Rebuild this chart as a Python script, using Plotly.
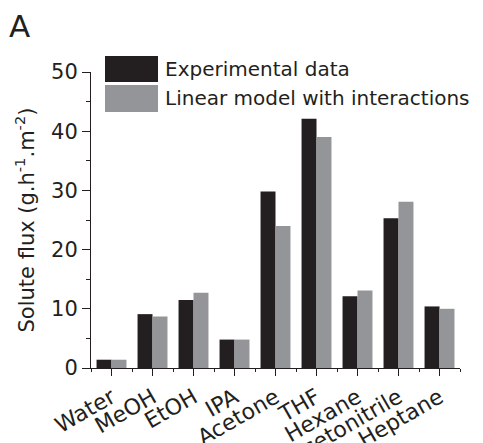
import plotly.graph_objects as go

solvents = ["Water", "MeOH", "EtOH", "IPA", "Acetone", "THF", "Hexane", "Acetonitrile", "Heptane"]
experimental = [1.4, 9.1, 11.5, 4.8, 29.8, 42.1, 12.1, 25.3, 10.4]
linear_model = [1.4, 8.7, 12.7, 4.8, 24.0, 39.0, 13.1, 28.1, 10.0]
series_names = ["Experimental data", "Linear model with interactions"]
y_ticks = [0, 10, 20, 30, 40, 50]

FONT = "DejaVu Sans"
INK = "#231f20"
BLACK = "#231f20"
GRAY = "#939598"

xpos = list(range(len(solvents)))

fig = go.Figure()
fig.add_trace(go.Bar(x=xpos, y=experimental, name=series_names[0],
                     marker=dict(color=BLACK, line=dict(width=0))))
fig.add_trace(go.Bar(x=xpos, y=linear_model, name=series_names[1],
                     marker=dict(color=GRAY, line=dict(width=0))))

W, H = 483, 443
L, R, T, B = 91, 23, 72, 75
pw, ph = W - L - R, H - T - B

def px(x):
    return (x - L) / pw

def py(y):
    return (H - B - y) / ph

fig.update_layout(
    width=W, height=H,
    margin=dict(l=L, r=R, t=T, b=B),
    paper_bgcolor="white", plot_bgcolor="white",
    barmode="group", bargap=0.27, bargroupgap=0,
    showlegend=False,
    font=dict(family=FONT, color=INK, size=20),
    xaxis=dict(
        automargin=False,
        range=[-0.5, len(solvents) - 0.5],
        tickmode="array", tickvals=xpos, ticktext=solvents,
        tickangle=-30, tickfont=dict(size=22, family=FONT, color=INK),
        ticks="outside", ticklen=7, tickwidth=1, tickcolor=INK,
        minor=dict(ticks="outside", ticklen=3, tickwidth=1, tickcolor=INK,
                   tick0=-0.5, dtick=1),
        showline=True, linecolor=INK, linewidth=1,
        showgrid=False, zeroline=False,
    ),
    yaxis=dict(
        automargin=False,
        range=[0, 50], tickmode="array", tickvals=y_ticks,
        tickfont=dict(size=21, family=FONT, color=INK),
        ticks="outside", ticklen=8, tickwidth=1, tickcolor=INK,
        minor=dict(ticks="outside", ticklen=4, tickwidth=1, tickcolor=INK,
                   tick0=5, dtick=10),
        showline=True, linecolor=INK, linewidth=1,
        showgrid=False, zeroline=False,
        title=dict(text="Solute flux (g.h<sup>-1</sup>.m<sup>-2</sup>)",
                   font=dict(size=21, family=FONT, color=INK), standoff=10),
    ),
)

# legend drawn as large swatches
fig.add_shape(type="rect", xref="paper", yref="paper",
              x0=px(105), x1=px(158), y0=py(82), y1=py(56),
              fillcolor=BLACK, line=dict(width=0))
fig.add_shape(type="rect", xref="paper", yref="paper",
              x0=px(105), x1=px(158), y0=py(112), y1=py(85),
              fillcolor=GRAY, line=dict(width=0))
fig.add_annotation(xref="paper", yref="paper", x=px(163), y=py(69),
                   xanchor="left", yanchor="middle", showarrow=False,
                   text=series_names[0], font=dict(size=20, family=FONT, color=INK))
fig.add_annotation(xref="paper", yref="paper", x=px(163), y=py(98),
                   xanchor="left", yanchor="middle", showarrow=False,
                   text=series_names[1], font=dict(size=20, family=FONT, color=INK))
fig.add_annotation(xref="paper", yref="paper", x=px(7), y=py(6),
                   xanchor="left", yanchor="top", showarrow=False,
                   text="A", font=dict(size=31, family=FONT, color=INK))

fig.write_html("out.html")
